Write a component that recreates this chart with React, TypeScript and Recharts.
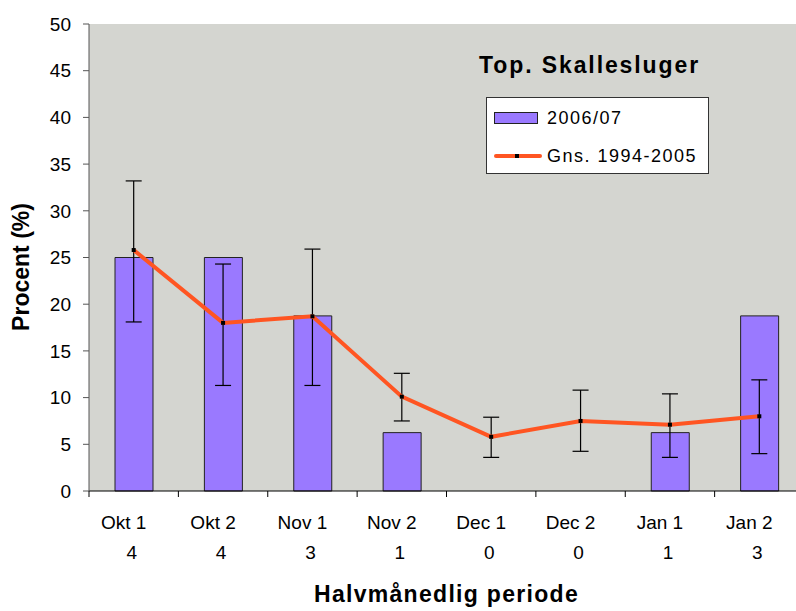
import React from "react";
import {
  ComposedChart,
  Bar,
  Line,
  ErrorBar,
  XAxis,
  YAxis,
  CartesianGrid,
  Legend,
} from "recharts";

const periods = ["Okt 1", "Okt 2", "Nov 1", "Nov 2", "Dec 1", "Dec 2", "Jan 1", "Jan 2"];
const birdCounts = [4, 4, 3, 1, 0, 0, 1, 3];
const season0607 = [25, 25, 18.75, 6.25, 0, 0, 6.25, 18.75];
const avg9405 = [25.8, 18.0, 18.7, 10.1, 5.8, 7.5, 7.1, 8.0];
const avgLow = [18.1, 11.3, 11.3, 7.5, 3.6, 4.25, 3.6, 4.0];
const avgHigh = [33.2, 24.3, 25.9, 12.6, 7.9, 10.8, 10.4, 11.9];
const yTicks = [0, 5, 10, 15, 20, 25, 30, 35, 40, 45, 50];

const data = periods.map((period, i) => ({
  period,
  count: birdCounts[i],
  season: season0607[i],
  avg: avg9405[i],
  err: [avg9405[i] - avgLow[i], avgHigh[i] - avg9405[i]],
}));

const FONT = '"Liberation Sans", Arial, sans-serif';
const CHART_W = 804;
const CHART_H = 611;
const AXIS_W = 89;
const HALF_BAND = (CHART_W - AXIS_W) / periods.length / 2;

const BAR_FILL = "#9a79ff";
const LINE_COLOR = "#ff5522";
const PLOT_BG = "#d4d5d0";

// category label + count below, ticks sit on the category boundaries
function PeriodTick(props: any) {
  const { x, y, payload } = props;
  const i = periods.indexOf(payload.value);
  return (
    <g>
      <line x1={x - HALF_BAND} y1={y} x2={x - HALF_BAND} y2={y + 6} stroke="#000" />
      {i === periods.length - 1 && (
        <line x1={x + HALF_BAND} y1={y} x2={x + HALF_BAND} y2={y + 6} stroke="#000" />
      )}
      <text x={x - 10} y={y + 38} textAnchor="middle" fontSize={19} fontFamily={FONT} fill="#000">
        {payload.value}
      </text>
      <text x={x - 2} y={y + 68} textAnchor="middle" fontSize={19} fontFamily={FONT} fill="#000">
        {birdCounts[i]}
      </text>
    </g>
  );
}

function SquareDot(props: any) {
  const { cx, cy } = props;
  if (cx == null || cy == null) return null;
  return <rect x={cx - 2} y={cy - 2} width={4} height={4} fill="#000" />;
}

function YTitle() {
  return (
    <text
      x={29}
      y={267}
      transform="rotate(-90 29 267)"
      textAnchor="middle"
      fontSize={23}
      fontWeight="bold"
      fontFamily={FONT}
      fill="#000"
    >
      Procent (%)
    </text>
  );
}

function LegendBox() {
  return (
    <div
      style={{
        position: "relative",
        boxSizing: "border-box",
        width: 223,
        height: 77,
        background: "#fff",
        border: "1px solid #333",
        fontFamily: FONT,
        fontSize: 18,
        letterSpacing: 1.5,
        color: "#000",
      }}
    >
      <div
        style={{
          position: "absolute",
          left: 7,
          top: 14,
          width: 44,
          height: 12,
          boxSizing: "border-box",
          background: BAR_FILL,
          border: "1px solid #222",
        }}
      />
      <div style={{ position: "absolute", left: 60, top: 9, lineHeight: "22px" }}>2006/07</div>
      <div
        style={{
          position: "absolute",
          left: 7,
          top: 56,
          width: 48,
          height: 4,
          borderRadius: 2,
          background: LINE_COLOR,
        }}
      />
      <div
        style={{ position: "absolute", left: 28, top: 56, width: 4, height: 4, background: "#000" }}
      />
      <div style={{ position: "absolute", left: 60, top: 47, lineHeight: "22px" }}>Gns. 1994-2005</div>
    </div>
  );
}

export default function App() {
  return (
    <div
      style={{
        position: "absolute",
        left: 0,
        top: 0,
        width: 796,
        height: 611,
        overflow: "hidden",
        background: "#fff",
      }}
    >
      <ComposedChart
        width={CHART_W}
        height={CHART_H}
        data={data}
        margin={{ top: 24, right: 0, bottom: 0, left: 0 }}
        barSize={38}
      >
        <CartesianGrid horizontal={false} vertical={false} fill={PLOT_BG} />
        <XAxis
          dataKey="period"
          height={120}
          axisLine={{ stroke: "#000" }}
          tickLine={false}
          tickSize={0}
          tickMargin={0}
          interval={0}
          tick={<PeriodTick />}
          label={{
            value: "Halvmånedlig periode",
            position: "insideBottom",
            offset: 9,
            style: {
              fontFamily: FONT,
              fontSize: 23,
              fontWeight: "bold",
              letterSpacing: 1.3,
              fill: "#000",
            },
          }}
        />
        <YAxis
          width={AXIS_W}
          domain={[0, 50]}
          ticks={yTicks}
          interval={0}
          axisLine={{ stroke: "#555" }}
          tickLine={{ stroke: "#555" }}
          tickSize={6}
          tickMargin={12}
          tick={{ fontFamily: FONT, fontSize: 19, fill: "#000" }}
          label={<YTitle />}
        />
        <Legend
          layout="vertical"
          align="center"
          verticalAlign="middle"
          wrapperStyle={{ left: 486, top: 97, width: 223, height: 77 }}
          content={() => <LegendBox />}
        />
        <Bar dataKey="season" name="2006/07" fill={BAR_FILL} stroke="#222" strokeWidth={1} isAnimationActive={false} />
        <Line
          dataKey="avg"
          name="Gns. 1994-2005"
          stroke={LINE_COLOR}
          strokeWidth={4}
          dot={<SquareDot />}
          activeDot={false}
          isAnimationActive={false}
        >
          <ErrorBar dataKey="err" width={8} stroke="#000" strokeWidth={1.2} isAnimationActive={false} />
        </Line>
      </ComposedChart>
      <div
        style={{
          position: "absolute",
          left: 479,
          top: 53,
          fontFamily: FONT,
          fontSize: 23,
          fontWeight: "bold",
          letterSpacing: 1.9,
          lineHeight: "24px",
          color: "#000",
        }}
      >
        Top. Skallesluger
      </div>
    </div>
  );
}
